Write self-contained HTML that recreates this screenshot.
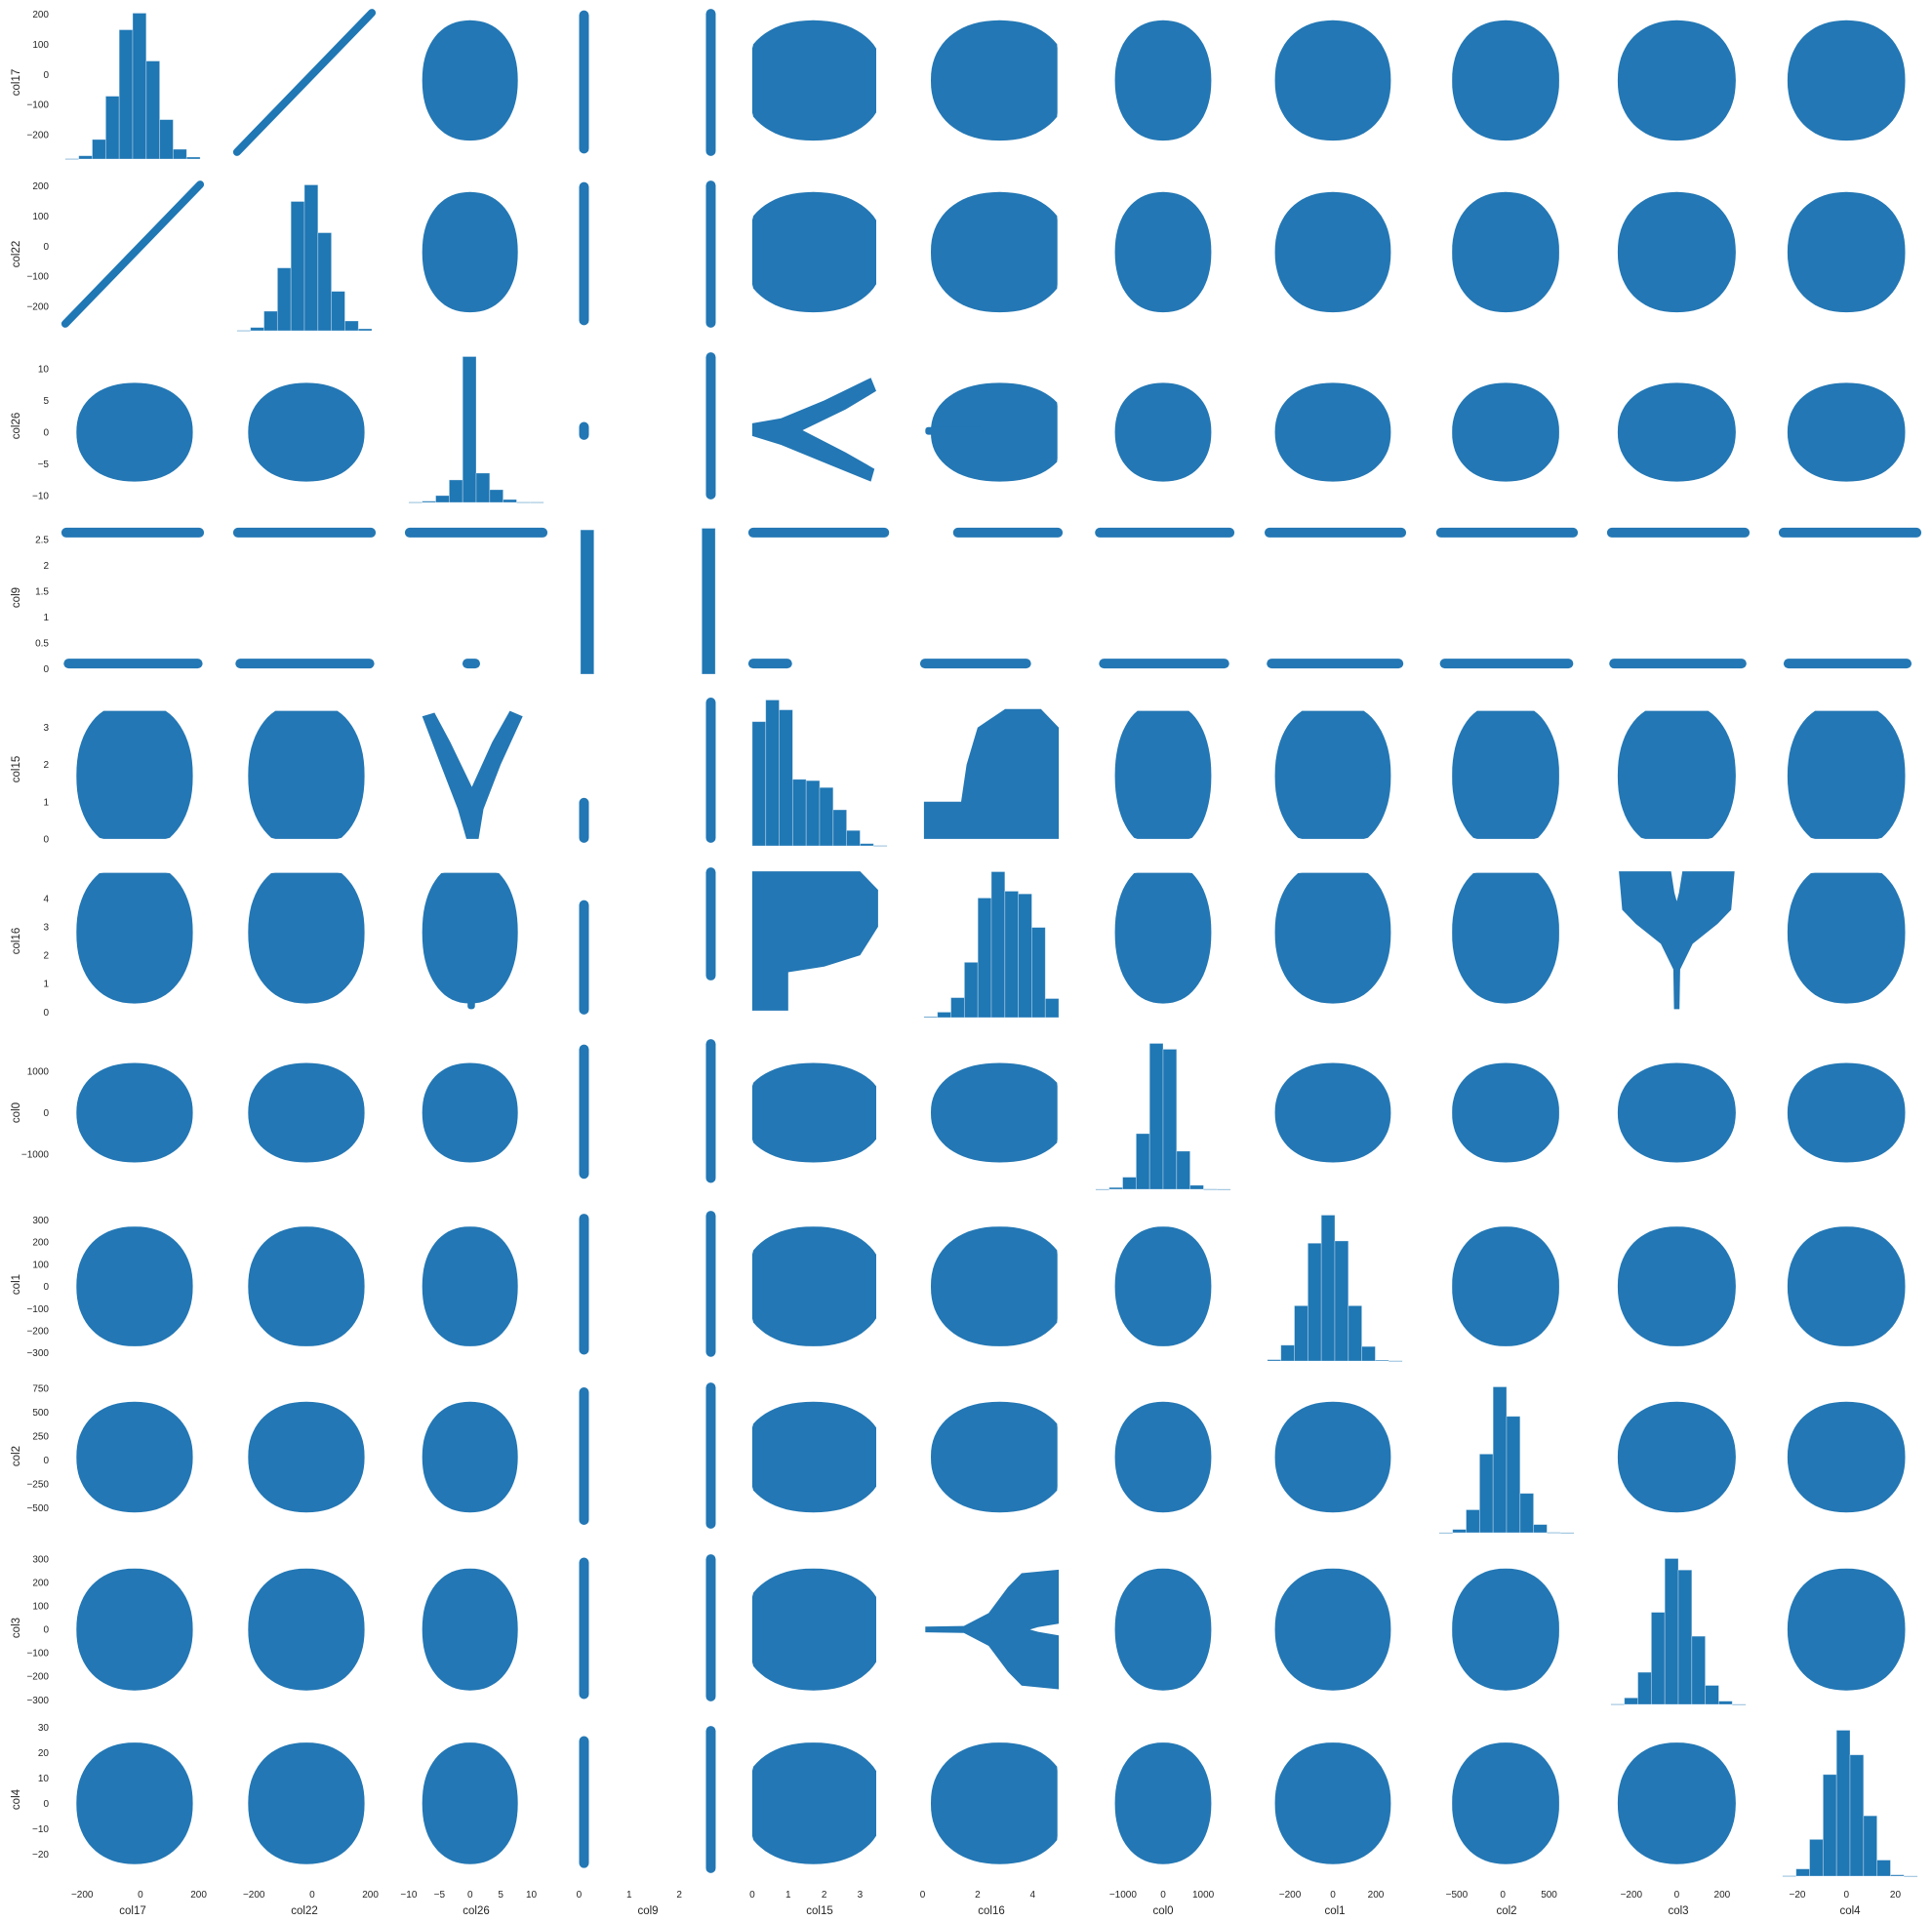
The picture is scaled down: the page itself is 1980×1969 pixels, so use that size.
<!DOCTYPE html>
<html><head><meta charset="utf-8"><style>
html,body{margin:0;padding:0;background:#fff;}
svg{display:block;font-family:"Liberation Sans",sans-serif;}
</style></head>
<body>
<svg id="chart" width="1980" height="1969" viewBox="0 0 1980 1969" xmlns="http://www.w3.org/2000/svg"></svg>
<script>
// ---- data ----
const names = ["col17","col22","col26","col9","col15","col16","col0","col1","col2","col3","col4"];
const dataMin = [-258,-258,-10,0.03,0.0,0.05,-1680,-305,-690,-290,-26];
const dataMax = [205,205,12,2.72,3.75,4.95,1680,323,770,304,29];
const yTicks = [[-200,-100,0,100,200],[-200,-100,0,100,200],[-10,-5,0,5,10],[0,0.5,1,1.5,2,2.5],[0,1,2,3],[0,1,2,3,4],[-1000,0,1000],[-300,-200,-100,0,100,200,300],[-500,-250,0,250,500,750],[-300,-200,-100,0,100,200,300],[-20,-10,0,10,20,30]];
const xTicks = [[-200,0,200],[-200,0,200],[-10,-5,0,5,10],[0,1,2],[0,1,2,3],[0,2,4],[-1000,0,1000],[-200,0,200],[-500,0,500],[-200,0,200],[-20,0,20]];
const histCol17 = [1,10,60,193,397,448,301,121,30,6];
const histCol22 = [1,10,60,193,397,448,301,121,30,6];
const histCol26 = [1,4,21,69,447,90,39,9,1,1];
const histCol9  = [450,0,0,0,0,0,0,0,0,455];
const histCol15 = [379,445,415,203,199,178,110,47,7,1];
const histCol16 = [2,12,44,122,264,322,279,273,199,42];
const histCol0  = [0.3,4,27,124,325,312,85,9,0.5,0.3];
const histCol1  = [3,35,122,260,322,265,122,32,2,0.5];
const histCol2  = [0.3,10,70,240,445,355,120,25,1,0.3];
const histCol3  = [1,20,98,281,445,410,208,58,10,0.5];
const histCol4  = [1,22,112,310,445,370,184,49,4,0.5];
const hists = [histCol17,histCol22,histCol26,histCol9,histCol15,histCol16,histCol0,histCol1,histCol2,histCol3,histCol4];
const cloudCenter = [-20,-20,0,1.4,1.7,2.8,0,0,30,0,0];
const cloudHalf   = [200,200,7.8,1.3,2.0,2.5,1200,270,580,260,24];
const clipLo = [-250,-250,-9,0.05,0.0,0.1,-1500,-290,-640,-280,-25];
const clipHi = [200,200,11,2.7,3.45,4.9,1550,310,720,290,27];
const col9Levels = [0.1,2.63];
const lowBandLo  = [-250,-250,-0.6,0,0.0,0.05,-1500,-290,-640,-280,-24];
const lowBandHi  = [200,200,1.0,0,1.0,3.8,1550,310,720,290,25];
const highBandLo = [-258,-258,-10,0,0.0,1.25,-1600,-300,-680,-290,-26];
const highBandHi = [205,205,12,0,3.7,4.95,1680,323,770,304,29];
// special shapes (data coords)
const vCol15 = [0,0.8,2.0,3.3,3.45,2.6,1.4,2.6,3.4,3.3,2.0,0.8,0];
const vCol26 = [1.4,2.2,5.0,8.6,6.5,3.6,0.3,-3.2,-5.8,-7.8,-4.8,-2.0,-0.6];
const fanCol16 = [0.1,1.5,2.4,3.1,3.6,4.95,4.95,4.2,3.9,4.2,4.95,4.95,3.6,3.1,2.4,1.5,0.1];
const fanCol3  = [12,15,70,180,240,255,25,10,0,-10,-25,-255,-240,-180,-70,-15,-12];
const stepCol16 = [0.05,0.05,1.4,1.6,2.0,3.0,4.3,4.95,4.95];
const stepCol15 = [0,1.0,1.0,2.0,3.0,3.5,3.5,3.0,0];
const stubCol16 = [0.1,2.2];
const stubCol26 = [-0.4,0.8];

// ---- layout ----
const L0=60, T0=6, PITCH=176, W=152, H=157;
const NS="http://www.w3.org/2000/svg";
const svg=document.getElementById('chart');
const BLUE="#1f77b4", CLOUD="#2377b4";
function mk(tag,attrs,parent){const e=document.createElementNS(NS,tag);for(const k in attrs)e.setAttribute(k,attrs[k]);(parent||svg).appendChild(e);return e;}
function lim(k){const r=dataMax[k]-dataMin[k];return [dataMin[k]-0.05*r,dataMax[k]+0.05*r];}
function sx(j,v){const [a,b]=lim(j);return L0+j*PITCH+(v-a)/(b-a)*W;}
function sy(i,v){const [a,b]=lim(i);return T0+i*PITCH+H-(v-a)/(b-a)*H;}
function polyPath(i,j,xs,ys){let d='';for(let k=0;k<xs.length;k++){d+=(k?'L':'M')+sx(j,xs[k]).toFixed(1)+','+sy(i,ys[k]).toFixed(1);}return d+'Z';}
function cloudPath(i,j){
  const n=2.2;let d='';
  for(let a=0;a<=72;a++){const t=a/72*2*Math.PI;const c=Math.cos(t),s=Math.sin(t);
    let xv=cloudCenter[j]+cloudHalf[j]*Math.sign(c)*Math.pow(Math.abs(c),2/n);
    let yv=cloudCenter[i]+cloudHalf[i]*Math.sign(s)*Math.pow(Math.abs(s),2/n);
    xv=Math.max(clipLo[j],Math.min(clipHi[j],xv));yv=Math.max(clipLo[i],Math.min(clipHi[i],yv));
    d+=(a?'L':'M')+sx(j,xv).toFixed(1)+','+sy(i,yv).toFixed(1);}
  return d+'Z';
}

for(let i=0;i<11;i++){
  for(let j=0;j<11;j++){
    const g=mk('g',{});
    
    
    const ni=names[i], nj=names[j];
    if(i===j){
      const counts=hists[i];const mx=Math.max(...counts);
      const bw=(dataMax[i]-dataMin[i])/counts.length;
      const yb=T0+i*PITCH+H;
      for(let b=0;b<counts.length;b++){
        if(counts[b]<=0) continue;
        const h=counts[b]/(mx*1.05)*H;
        const x1=sx(j,dataMin[i]+b*bw),x2=sx(j,dataMin[i]+(b+1)*bw);
        const r=mk('rect',{x:x1,y:yb-h,width:x2-x1,height:Math.max(h,0.8),fill:BLUE,stroke:'#ffffff','stroke-opacity':0.4,'stroke-width':0.8},g);
        
        
      }
      continue;
    }
    const pair=[ni,nj].sort().join('|');
    if(pair==='col17|col22'){
      const l=mk('line',{x1:sx(j,dataMin[j]),y1:sy(i,dataMin[i]),x2:sx(j,dataMax[j]),y2:sy(i,dataMax[i]),stroke:BLUE,'stroke-width':8,'stroke-linecap':'round'},g);
      
      
      continue;
    }
    if(ni==='col9'||nj==='col9'){
      for(let L=0;L<2;L++){
        const o=(ni==='col9')?j:i;
        const lo=L?highBandLo[o]:lowBandLo[o], hi=L?highBandHi[o]:lowBandHi[o];
        let r;
        if(nj==='col9'){
          const cx=sx(j,col9Levels[L]);
          r=mk('rect',{x:cx-5,y:sy(i,hi)-4,width:10,height:sy(i,lo)-sy(i,hi)+8,rx:5,fill:CLOUD},g);
        } else {
          const cy=sy(i,col9Levels[L]);
          r=mk('rect',{x:sx(j,lo)-4,y:cy-5,width:sx(j,hi)-sx(j,lo)+8,height:10,rx:5,fill:CLOUD},g);
        }
        
        
      }
      continue;
    }
    let p;
    if(pair==='col15|col26'){
      p = ni==='col26'? mk('path',{d:polyPath(i,j,vCol15,vCol26),fill:CLOUD},g) : mk('path',{d:polyPath(i,j,vCol26,vCol15),fill:CLOUD},g);
    } else if(pair==='col16|col3'){
      p = ni==='col3'? mk('path',{d:polyPath(i,j,fanCol16,fanCol3),fill:CLOUD},g) : mk('path',{d:polyPath(i,j,fanCol3,fanCol16),fill:CLOUD},g);
    } else if(pair==='col15|col16'){
      p = ni==='col15'? mk('path',{d:polyPath(i,j,stepCol16,stepCol15),fill:CLOUD},g) : mk('path',{d:polyPath(i,j,stepCol15,stepCol16),fill:CLOUD},g);
    } else if(pair==='col16|col26'){
      p = mk('path',{d:cloudPath(i,j),fill:CLOUD},g);
      let s;
      if(ni==='col26') s=mk('rect',{x:sx(j,stubCol16[0]),y:sy(i,stubCol26[1]),width:sx(j,stubCol16[1])-sx(j,stubCol16[0]),height:sy(i,stubCol26[0])-sy(i,stubCol26[1]),rx:3,fill:CLOUD},g);
      else s=mk('rect',{x:sx(j,stubCol26[0]),y:sy(i,stubCol16[1]),width:sx(j,stubCol26[1])-sx(j,stubCol26[0]),height:sy(i,stubCol16[0])-sy(i,stubCol16[1]),rx:3,fill:CLOUD},g);
      
      
    } else {
      p = mk('path',{d:cloudPath(i,j),fill:CLOUD},g);
    }
    
    
  }
}
// axes text
for(let i=0;i<11;i++){
  yTicks[i].forEach(v=>{
    const t=mk('text',{x:50,y:sy(i,v)+3.5,'text-anchor':'end','font-size':10,fill:'#262626'});
    t.textContent=(Number.isInteger(v)?String(v):v.toFixed(1)).replace('-','\u2212');
    
    
  });
  const cy=T0+i*PITCH+H/2;
  const lb=mk('text',{x:20,y:cy,'text-anchor':'middle','font-size':11.5,fill:'#262626',transform:'rotate(-90 20 '+cy+')'});
  lb.textContent=names[i];
  
  
}
for(let j=0;j<11;j++){
  xTicks[j].forEach(v=>{
    const t=mk('text',{x:sx(j,v),y:1945,'text-anchor':'middle','font-size':10,fill:'#262626'});
    t.textContent=String(v).replace('-','\u2212');
    
    
  });
  const lb=mk('text',{x:L0+j*PITCH+W/2,y:1962,'text-anchor':'middle','font-size':11.5,fill:'#262626'});
  lb.textContent=names[j];
  
  
}
</script>
</body></html>
